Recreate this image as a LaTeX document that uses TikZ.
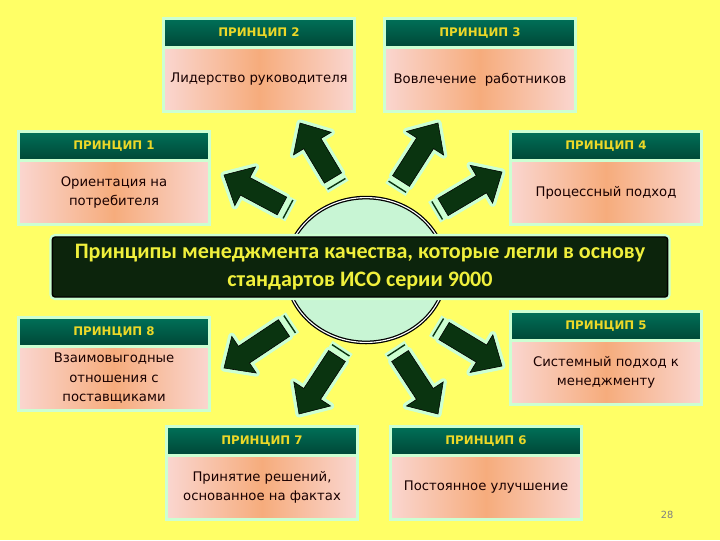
\documentclass[tikz,border=0pt]{standalone}
\usepackage{fontspec}
\setmainfont{DejaVu Sans}
\newfontfamily\bannerfont{Carlito}
\usetikzlibrary{calc,positioning,shapes.geometric}

\definecolor{bgyellow}{RGB}{255,255,102}
\definecolor{mint}{RGB}{204,255,210}
\definecolor{headtop}{RGB}{0,112,88}
\definecolor{headbot}{RGB}{0,70,54}
\definecolor{headtext}{RGB}{236,216,40}
\definecolor{bodyside}{RGB}{250,214,208}
\definecolor{bodymid}{RGB}{246,172,124}
\definecolor{arrowgreen}{RGB}{10,52,16}
\definecolor{bannergreen}{RGB}{12,36,12}
\definecolor{bannertext}{RGB}{240,240,60}
\definecolor{hubfill}{RGB}{200,245,212}

\tikzset{
  headbox/.style={draw=mint, line width=0.075cm, outer sep=0pt, top color=headtop, bottom color=headbot,
    minimum width=4.78cm, minimum height=0.72cm, inner sep=0pt, text=headtext,
    font=\bfseries\fontsize{8.4}{10}\selectfont},
  bodybox/.style={draw=mint, line width=0.075cm, outer sep=0pt, left color=bodyside, right color=bodyside,
    middle color=bodymid, minimum width=4.78cm, minimum height=1.6cm, inner sep=0pt, align=center,
    text=black!90!red, font=\fontsize{9.4}{13.8}\selectfont},
  arrowbody/.style={preaction={draw=mint, line width=0.18cm, line join=round}, fill=arrowgreen},
}

\begin{document}
\begin{tikzpicture}[x=0.025cm, y=-0.025cm]
\fill[bgyellow] (0,0) rectangle (720,540);
\useasboundingbox (0,0) rectangle (720,540);

% centre
\node[ellipse, draw=black, double=white, double distance=0.8pt, line width=0.9pt, fill=hubfill,
  minimum width=4cm, minimum height=3.62cm, inner sep=0pt] (hub) at (366,270) {};
\node[preaction={draw=mint, line width=0.15cm, rounded corners=2pt}, fill=bannergreen, draw=black, line width=1pt,
  rounded corners=2pt, minimum width=15.38cm, minimum height=1.5cm, text=bannertext, align=center,
  font=\bannerfont\bfseries\fontsize{15.7}{19.5}\selectfont] (banner) at (360,267)
  {Принципы менеджмента качества, которые легли в основу\\стандартов ИСО серии 9000};

% principles
\node[headbox] (h1) at (114,146) {ПРИНЦИП 1};
\node[bodybox, below=0pt of h1] (b1) {Ориентация на\\потребителя};
\node[headbox] (h2) at (259,33) {ПРИНЦИП 2};
\node[bodybox, below=0pt of h2] (b2) {Лидерство руководителя};
\node[headbox] (h3) at (480,33) {ПРИНЦИП 3};
\node[bodybox, below=0pt of h3] (b3) {Вовлечение\ \ работников};
\node[headbox] (h4) at (606,146) {ПРИНЦИП 4};
\node[bodybox, below=0pt of h4] (b4) {Процессный подход};
\node[headbox] (h5) at (606,326) {ПРИНЦИП 5};
\node[bodybox, below=0pt of h5] (b5) {Системный подход к\\менеджменту};
\node[headbox] (h6) at (486,441) {ПРИНЦИП 6};
\node[bodybox, below=0pt of h6] (b6) {Постоянное улучшение};
\node[headbox] (h7) at (262,441) {ПРИНЦИП 7};
\node[bodybox, below=0pt of h7] (b7) {Принятие решений,\\основанное на фактах};
\node[headbox] (h8) at (114,332) {ПРИНЦИП 8};
\node[bodybox, below=0pt of h8] (b8) {Взаимовыгодные\\отношения с\\поставщиками};

% arrows: tail and tip
\coordinate (s1) at (282,206); \coordinate (e1) at (224,175);
\coordinate (s2) at (333,178); \coordinate (e2) at (300,123);
\coordinate (s3) at (401,181); \coordinate (e3) at (438,123);
\coordinate (s4) at (443,207); \coordinate (e4) at (502,172);
\coordinate (s5) at (444,331); \coordinate (e5) at (502,366);
\coordinate (s6) at (400,356); \coordinate (e6) at (438,414);
\coordinate (s7) at (337,356); \coordinate (e7) at (299,414);
\coordinate (s8) at (284,328); \coordinate (e8) at (224,368);

\foreach \s/\e in {s1/e1,s2/e2,s3/e3,s4/e4,s5/e5,s6/e6,s7/e7,s8/e8}{
  \coordinate (n) at ($(\e)!0.6cm!(\s)$);
  \coordinate (b) at ($(\s)!-0.17cm!(\e)$);
  \draw[arrowbody] ($(\s)!0.25cm!90:(\e)$) -- ($(n)!0.25cm!90:(\e)$) -- ($(n)!0.55cm!90:(\e)$)
    -- (\e) -- ($(n)!0.55cm!-90:(\e)$) -- ($(n)!0.25cm!-90:(\e)$) -- ($(\s)!0.25cm!-90:(\e)$) -- cycle;
  \draw[mint, line width=0.17cm] ($(b)!0.3cm!90:(\e)$) -- ($(b)!0.3cm!-90:(\e)$);
  \draw[arrowgreen, line width=1pt] ($(b)!0.26cm!90:(\e)$) -- ($(b)!0.26cm!-90:(\e)$);
}

\node[text=gray, font=\fontsize{7}{8}\selectfont] (page) at (667,515) {28};
\end{tikzpicture}
\end{document}
